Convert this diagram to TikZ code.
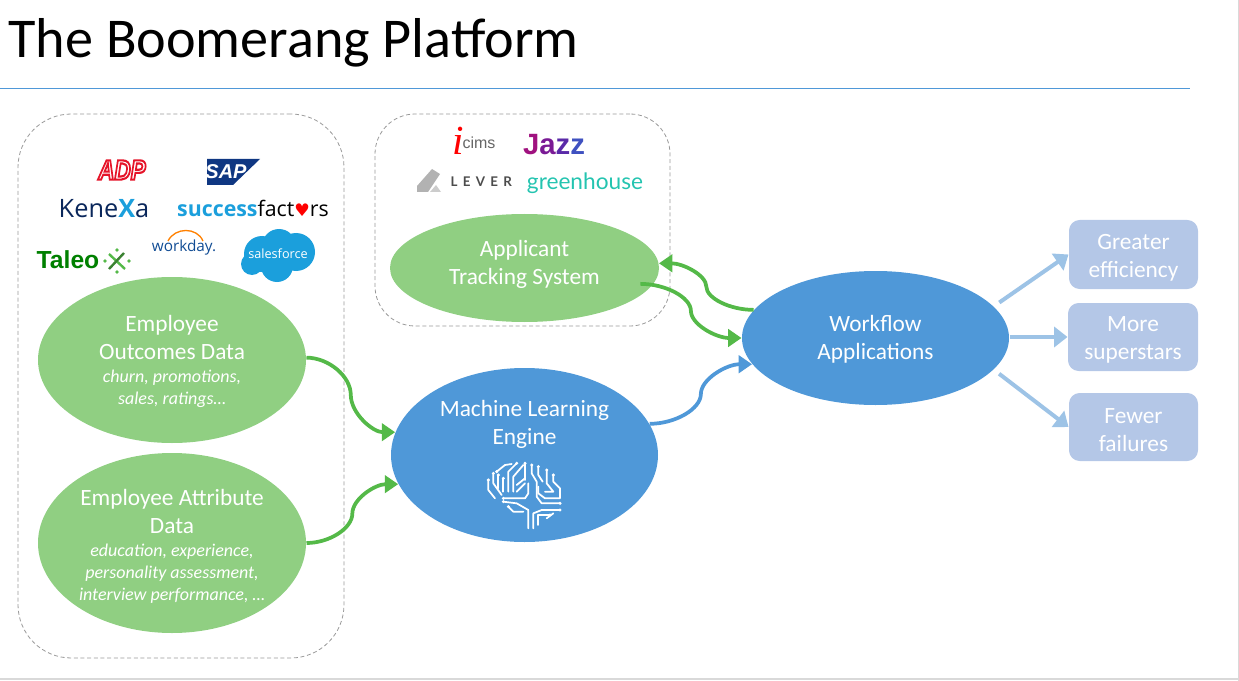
\documentclass[tikz,border=0pt]{standalone}
\usepackage{fontspec}
\setmainfont{Carlito}
\newfontfamily\logosans{Open Sans}
\newfontfamily\logolato{Lato}
\newfontfamily\logoarial{Liberation Sans}
\newfontfamily\logoserif{Liberation Serif}
\newfontfamily\logosym{DejaVu Sans}
\usetikzlibrary{shapes.geometric,arrows.meta,calc}
\definecolor{leafgreen}{RGB}{144,207,130}
\definecolor{flowgreen}{RGB}{84,185,72}
\definecolor{coreblue}{RGB}{79,152,216}
\definecolor{paleblue}{RGB}{157,195,230}
\definecolor{boxblue}{RGB}{180,199,231}
\definecolor{cloudblue}{RGB}{27,159,220}
\definecolor{navyblue}{RGB}{15,55,130}
\tikzset{every picture/.style={line width=0.75pt},
	groupbox/.style={draw=black!40,dash pattern={on 3pt off 2pt},line width=0.6pt},
	blob/.style={ellipse,inner sep=0pt,text=white,align=center,font=\fontsize{17.5}{21}\selectfont},
	resultbox/.style={rectangle,rounded corners=8pt,fill=boxblue,text=white,align=center,inner sep=0pt,font=\fontsize{17.5}{21}\selectfont},
	swoop/.style={to path={let \p1=(\tikztostart),\p2=(\tikztotarget),\p3=($(\p1)!.5!(\p2)$) in
		.. controls ($(\p1)!.5!(\x3,\y1)$) and ($(\p3)!.5!(\x3,\y1)$) .. (\p3)
		.. controls ($(\p3)!.5!(\x3,\y2)$) and ($(\p2)!.5!(\x3,\y2)$) .. (\tikztotarget)}},
	greenflow/.style={draw=flowgreen,line width=2.8pt,-{Triangle[length=10pt,width=13pt]},swoop},
	blueflow/.style={draw=coreblue,line width=2.8pt,-{Triangle[length=10pt,width=13pt]},swoop},
	paleflow/.style={draw=paleblue,line width=3pt,-{Triangle[length=10pt,width=15pt]}},
	braintrace/.style={draw=white,line width=1.3pt,line cap=round,line join=round}}
\newcommand{\detail}[1]{{\fontsize{13.5}{16}\selectfont\itshape #1}}
\newcommand{\topgap}[1]{\rule{0pt}{#1}}

\begin{document}
\begin{tikzpicture}[x=0.75pt,y=0.75pt,yscale=-1,xscale=1]
	\useasboundingbox (0,0) rectangle (1239,681);
	
	%page edges
	\draw [black!15,line width=1.2pt] (0,679) -- (1239,679);
	\draw [black!15,line width=1.2pt] (1238.5,0) -- (1238.5,681);
	
	%title
	\node (title) [anchor=west,inner sep=0pt,font=\fontsize{42.15}{50}\selectfont] at (8,43) {The Boomerang Platform};
	\coordinate (rulestart) at (0,88.5);
	\coordinate (ruleend) at (1190,88.5);
	\draw [coreblue,line width=0.6pt] (rulestart) -- (ruleend);
	
	%dashed groups
	\node (hrgroup) [groupbox,rounded corners=40pt,minimum width=244.5pt,minimum height=408pt] at (181,386) {};
	\node (atsgroup) [groupbox,rounded corners=30pt,minimum width=221.25pt,minimum height=159pt] at (522.5,220) {};
	
	%ovals
	\node (outcomes) [blob,fill=leafgreen,minimum width=201pt,minimum height=124.5pt] at (172,360) {\topgap{14.5pt}Employee\\Outcomes Data\\[-3.7pt]\detail{churn, promotions,}\\[-4.5pt]\detail{sales, ratings…}};
	\node (attribute) [blob,fill=leafgreen,minimum width=201pt,minimum height=135pt] at (172,543) {\topgap{17.5pt}Employee Attribute\\Data\\[-3.7pt]\detail{education, experience,}\\[-4.5pt]\detail{personality assessment,}\\[-4.5pt]\detail{interview performance, …}};
	\node (ats) [blob,fill=leafgreen,minimum width=201.75pt,minimum height=81pt] at (524.5,268) {Applicant\\Tracking System\rule[-8pt]{0pt}{8pt}};
	\node (engine) [blob,fill=coreblue,minimum width=200.25pt,minimum height=130.5pt] at (524.5,455) {};
	\node (enginetext) [blob] at (524.5,424) {Machine Learning\\Engine};
	\node (workflow) [blob,fill=coreblue,minimum width=200.25pt,minimum height=100.5pt] at (875.5,338) {\topgap{14.5pt}Workflow\\Applications};
	
	%result boxes
	\node (greater) [resultbox,minimum width=96.75pt,minimum height=51.75pt] at (1133.5,254.5) {\topgap{16pt}Greater\\efficiency};
	\node (more) [resultbox,minimum width=97.5pt,minimum height=51pt] at (1133,337) {\topgap{16pt}More\\superstars};
	\node (fewer) [resultbox,minimum width=96.75pt,minimum height=51pt] at (1133.5,427) {\topgap{16pt}Fewer\\failures};
	\coordinate (moreout) at (workflow.east |- more.west);
	
	%connectors
	\draw [greenflow] (outcomes.1) to (engine.170);
	\draw [greenflow] (attribute.0) to (engine.-167);
	\draw [blueflow] (engine.14) to (workflow.-168);
	\draw [greenflow] ([xshift=-10pt]ats.-7) to (workflow.180);
	\draw [greenflow] (workflow.167) to (ats.2);
	\draw [paleflow,shorten <=5pt] (workflow.15) -- (greater.west);
	\draw [paleflow] (moreout) -- (more.west);
	\draw [paleflow,shorten <=5pt] (workflow.-15) -- (fewer.west);
	
	%brain
	\begin{scope}[shift={(470,450)},x=0.25pt,y=0.25pt]
		\draw [braintrace] (175,235) -- (175,180) -- (140,160) -- (100,155);
		\draw [braintrace] (190,235) -- (190,190) -- (215,180) -- (270,180);
		\draw [braintrace] (205,225) -- (205,195) -- (240,195);
		\draw [braintrace] (115,170) -- (130,185) -- (160,185);
		\draw [braintrace] (100,145) -- (165,145) -- (175,130) -- (175,100);
		\draw [braintrace] (55,90) -- (55,120) -- (75,145);
		\draw [braintrace] (70,70) -- (70,100) -- (95,135);
		\draw [braintrace] (80,65) -- (105,45) -- (125,42);
		\draw [braintrace] (85,75) -- (85,115);
		\draw [braintrace] (100,85) -- (100,125);
		\draw [braintrace] (115,125) -- (115,65) -- (140,40);
		\draw [braintrace] (130,125) -- (130,80) -- (160,45);
		\draw [braintrace] (140,105) -- (165,85);
		\draw [braintrace] (140,125) -- (165,100);
		\draw [braintrace] (165,40) -- (165,90);
		\draw [braintrace] (185,45) -- (185,70) -- (200,95) -- (200,140) -- (215,160) -- (270,160);
		\draw [braintrace] (205,50) -- (205,75) -- (218,95);
		\draw [braintrace] (230,60) -- (230,100) -- (250,125) -- (225,125);
		\draw [braintrace] (250,75) -- (250,95) -- (270,115) -- (270,145) -- (225,145) -- (205,130) -- (205,110);
		\draw [braintrace] (230,205) -- (250,190);
		\foreach \tipx/\tipy in {55/90,70/70,80/65,85/75,100/85,140/40,165/40,185/45,205/50,230/60,250/75,270/180,270/160,100/155,100/145,115/170,240/195} {
			\fill [white] (\tipx,\tipy) circle (5);
		}
	\end{scope}
	
	%logos left group
	\node (adp) [inner sep=0pt,font=\logoarial\bfseries\itshape\fontsize{21}{21}\selectfont] at (122,170) {\scalebox{.8}[1]{\special{pdf:code q 1 Tr 1.6 w 0.9 0.08 0.16 RG}ADP\special{pdf:code Q}}};
	\fill [navyblue] (207,159) -- (260,159) -- (233,185) -- (207,185) -- cycle;
	\node (sap) [inner sep=0pt,text=white,font=\logoarial\bfseries\itshape\fontsize{15}{15}\selectfont] at (226,172) {SAP};
	\node (kenexa) [inner sep=0pt,text=navyblue!70!black,font=\logosans\fontsize{19}{19}\selectfont] at (104,209) {Kene{\color{cloudblue}\bfseries X}a};
	\node (successfactors) [inner sep=0pt,font=\logosans\fontsize{16}{17}\selectfont] at (253,208) {{\color{cloudblue}\bfseries success}fact{\logosym\fontsize{13}{13}\selectfont\color{red}\char"2665}rs};
	\node (taleo) [inner sep=0pt,text=green!50!black,font=\logoarial\bfseries\fontsize{18.5}{19}\selectfont] at (68,260) {Taleo};
	\draw [flowgreen,line width=1.8pt] (109,254) -- (125,269);
	\draw [flowgreen!70!black,line width=1.8pt] (124,253) -- (109,269);
	\fill [flowgreen] (117,250) circle (1.8) (117,272) circle (1.8) (105,261) circle (1.8) (129,261) circle (1.8);
	\node (workday) [inner sep=0pt,text=navyblue!80!cloudblue,font=\logosans\fontsize{11.5}{12}\selectfont] at (184,248) {workday.};
	\draw [orange,line width=1pt] (168,241) .. controls (175,227) and (197,227) .. (203,241);
	\fill [cloudblue] (262,254) circle (18) (279,246) circle (17) (296,252) circle (19) (277,266) circle (16) (252,264) circle (11);
	\node (salesforce) [inner sep=0pt,text=white,font=\logosans\fontsize{9.5}{10}\selectfont] at (278,254) {salesforce};
	
	%logos ats group
	\node (icims) [inner sep=0pt,text=black!60,font=\logoarial\fontsize{12}{12}\selectfont,anchor=west] at (462,143) {cims};
	\node (icimsi) [inner sep=0pt,text=red,font=\logoserif\itshape\fontsize{31}{31}\selectfont] at (458,141) {i};
	\node (jazz) [inner sep=0pt,font=\logoarial\bfseries\fontsize{22}{22}\selectfont] at (554,145) {{\color[RGB]{160,18,127}J}{\color[RGB]{122,26,149}a}{\color[RGB]{90,42,168}z}{\color[RGB]{63,81,192}z}};
	\fill [black!30] (417,186) -- (432,169) -- (440,174) -- (428,192) -- (417,192) -- cycle;
	\fill [black!20] (430,192) -- (436,185) -- (441,192) -- cycle;
	\node (lever) [inner sep=0pt,text=black!70,font=\logolato\bfseries\fontsize{10}{10}\selectfont,anchor=west] at (450,182) {\addfontfeature{LetterSpace=40}LEVER};
	\node (greenhouse) [inner sep=0pt,text={rgb,255:red,36;green,196;blue,176},font=\logolato\fontsize{17}{17}\selectfont] at (585,183) {greenhouse};
	
\end{tikzpicture}
\end{document}
